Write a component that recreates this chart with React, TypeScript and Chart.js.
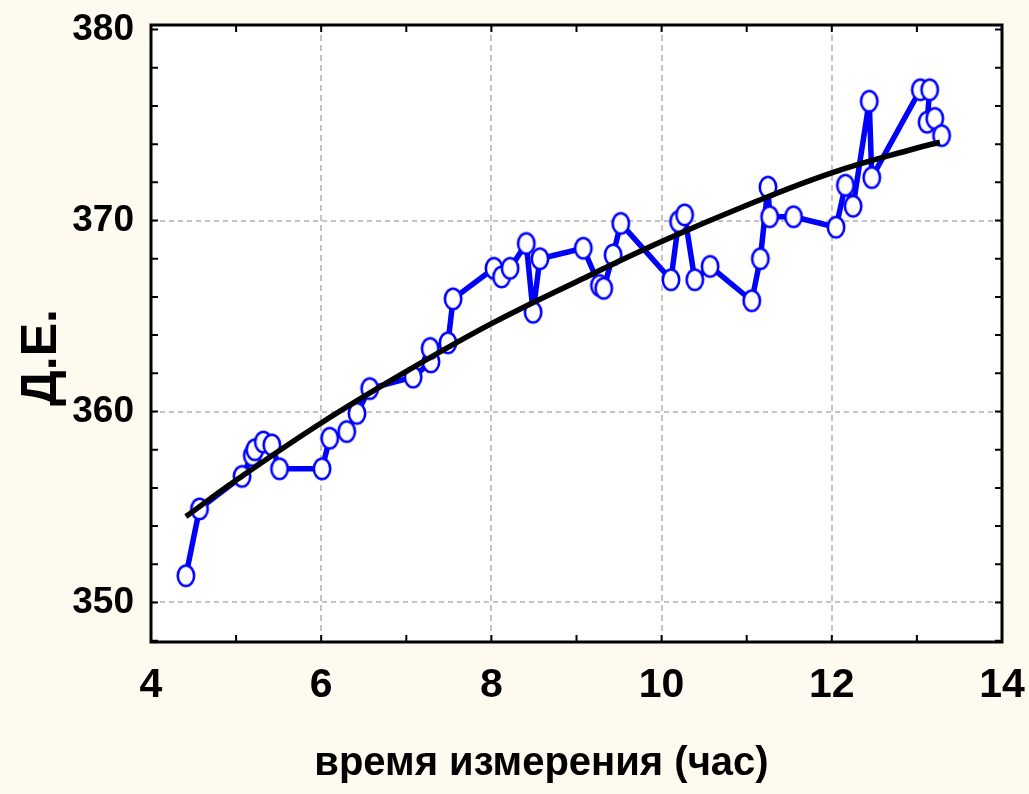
import React, { useEffect, useRef } from 'react';
import { Chart, registerables } from 'chart.js';

Chart.register(...registerables);

// measured series (hours, Д.Е.)
const measTimes = [4.41, 4.57, 5.07, 5.19, 5.22, 5.32, 5.42, 5.51, 6.01, 6.10, 6.30, 6.42, 6.57, 7.08, 7.29, 7.28, 7.49, 7.55, 8.03, 8.12, 8.22, 8.41, 8.49, 8.57, 9.08, 9.27, 9.32, 9.43, 9.52, 10.11, 10.20, 10.27, 10.39, 10.57, 11.06, 11.16, 11.25, 11.27, 11.55, 12.05, 12.16, 12.25, 12.44, 12.47, 13.04, 13.15, 13.12, 13.21, 13.29];
const measValues = [351.4, 354.9, 356.6, 357.7, 358.0, 358.4, 358.25, 357.0, 357.0, 358.6, 358.95, 359.9, 361.2, 361.8, 362.6, 363.3, 363.6, 365.9, 367.5, 367.05, 367.5, 368.8, 365.2, 368.0, 368.55, 366.6, 366.45, 368.2, 369.85, 366.9, 369.95, 370.3, 366.9, 367.6, 365.8, 368.0, 371.75, 370.2, 370.2, 369.65, 371.85, 370.75, 376.25, 372.25, 376.85, 376.85, 375.15, 375.35, 374.45];

// fitted trend curve
const fitTimes = [4.41, 5, 6, 7, 8, 9, 10, 11, 12, 13, 13.27];
const fitValues = [354.5, 356.4, 359.4, 362.1, 364.6, 366.8, 368.9, 370.8, 372.5, 373.8, 374.1];

// axes
const xMin = 4;
const xMax = 14;
const xTickStep = 2;
const xMinorStep = 1;
const yMin = 347.93;
const yMax = 380.24;
const yTickValues = [350, 360, 370, 380];
const yMinorStep = 2;

const xTitle = 'время измерения (час)';
const yTitle = 'Д.Е.';

const BG = '#FFFAEF';
const FONT = '"Liberation Sans Narrow", "Arial Narrow", "Liberation Sans", Arial, sans-serif';

function makeMarker(): HTMLCanvasElement {
  const c = document.createElement('canvas');
  c.width = 22;
  c.height = 26;
  const g = c.getContext('2d')!;
  g.beginPath();
  g.ellipse(11, 13, 8.2, 10.3, 0, 0, Math.PI * 2);
  g.fillStyle = '#ffffff';
  g.fill();
  g.lineWidth = 2.6;
  g.strokeStyle = '#0000ff';
  g.stroke();
  return c;
}

const framePlugin = {
  id: 'frame',
  beforeDraw(chart: any) {
    const { ctx, chartArea: a } = chart;
    ctx.save();
    ctx.fillStyle = BG;
    ctx.fillRect(0, 0, chart.width, chart.height);
    ctx.fillStyle = '#ffffff';
    ctx.fillRect(a.left, a.top, a.right - a.left, a.bottom - a.top);
    ctx.restore();
  },
  afterDraw(chart: any) {
    const { ctx, chartArea: a, scales } = chart;
    const xs = scales.x;
    const ys = scales.y;
    ctx.save();
    ctx.strokeStyle = '#000000';
    ctx.lineWidth = 2;
    const tl = 7;
    ctx.beginPath();
    for (let v = Math.ceil(xs.min / xMinorStep) * xMinorStep; v <= xs.max + 1e-9; v += xMinorStep) {
      const px = xs.getPixelForValue(v);
      ctx.moveTo(px, a.bottom);
      ctx.lineTo(px, a.bottom - tl);
      ctx.moveTo(px, a.top);
      ctx.lineTo(px, a.top + tl);
    }
    for (let v = Math.ceil(ys.min / yMinorStep) * yMinorStep; v <= ys.max + 1e-9; v += yMinorStep) {
      const py = ys.getPixelForValue(v);
      ctx.moveTo(a.left, py);
      ctx.lineTo(a.left + tl, py);
      ctx.moveTo(a.right, py);
      ctx.lineTo(a.right - tl, py);
    }
    ctx.stroke();
    ctx.lineWidth = 3;
    ctx.strokeRect(a.left, a.top, a.right - a.left, a.bottom - a.top);

    // axis titles
    ctx.fillStyle = '#000000';
    ctx.textAlign = 'center';
    ctx.textBaseline = 'middle';
    ctx.font = `bold 40px ${FONT}`;
    ctx.fillText(xTitle, (a.left + a.right) / 2 - 35, chart.height - 30);
    ctx.translate(42, (a.top + a.bottom) / 2 + 24);
    ctx.rotate(-Math.PI / 2);
    ctx.font = `bold 50px ${FONT}`;
    ctx.fillText(yTitle, 0, 0);
    ctx.restore();
  },
};

export default function App() {
  const ref = useRef<HTMLCanvasElement>(null);

  useEffect(() => {
    const marker = makeMarker();
    const chart = new Chart(ref.current!, {
      type: 'line',
      data: {
        datasets: [
          {
            label: 'fit',
            data: fitTimes.map((x, i) => ({ x, y: fitValues[i] })),
            borderColor: '#000000',
            borderWidth: 5.5,
            pointRadius: 0,
            tension: 0.4,
            fill: false,
            order: 0,
          },
          {
            label: 'meas',
            data: measTimes.map((x, i) => ({ x, y: measValues[i] })),
            borderColor: '#0000ff',
            borderWidth: 5.5,
            borderJoinStyle: 'round',
            borderCapStyle: 'round',
            pointStyle: marker as any,
            pointRadius: 10,
            tension: 0,
            fill: false,
            order: 1,
          },
        ],
      },
      options: {
        animation: false,
        responsive: false,
        layout: { padding: { left: 0, top: 25, right: 27, bottom: 0 } },
        plugins: { legend: { display: false }, tooltip: { enabled: false } },
        scales: {
          x: {
            type: 'linear',
            min: xMin,
            max: xMax,
            afterFit: (s: any) => { s.height = 152; s.paddingLeft = 0; s.paddingRight = 0; },
            ticks: {
              stepSize: xTickStep,
              autoSkip: false,
              maxRotation: 0,
              color: '#000000',
              padding: 19,
              font: { family: FONT, size: 41, weight: 'bold' },
            },
            grid: {
              drawTicks: false,
              lineWidth: 2,
              color: (c: any) => (c.tick && (c.tick.value === xMin || c.tick.value === xMax) ? 'rgba(0,0,0,0)' : '#c4c4c4'),
            },
            border: { display: false, dash: [6, 4] },
          },
          y: {
            type: 'linear',
            min: yMin,
            max: yMax,
            afterFit: (s: any) => { s.width = 151; s.paddingTop = 0; s.paddingBottom = 0; },
            afterBuildTicks: (s: any) => { s.ticks = yTickValues.map((v) => ({ value: v })); },
            ticks: {
              autoSkip: false,
              color: '#000000',
              padding: 17,
              font: { family: FONT, size: 37, weight: 'bold' },
            },
            grid: {
              drawTicks: false,
              lineWidth: 2,
              color: (c: any) => (c.tick && c.tick.value === 380 ? 'rgba(0,0,0,0)' : '#c4c4c4'),
            },
            border: { display: false, dash: [5, 4] },
          },
        },
      },
      plugins: [framePlugin],
    });
    return () => chart.destroy();
  }, []);

  return (
    <div style={{ position: 'fixed', left: 0, top: 0, width: 1029, height: 794, background: BG }}>
      <canvas ref={ref} width={1029} height={794} style={{ display: 'block' }} />
    </div>
  );
}
